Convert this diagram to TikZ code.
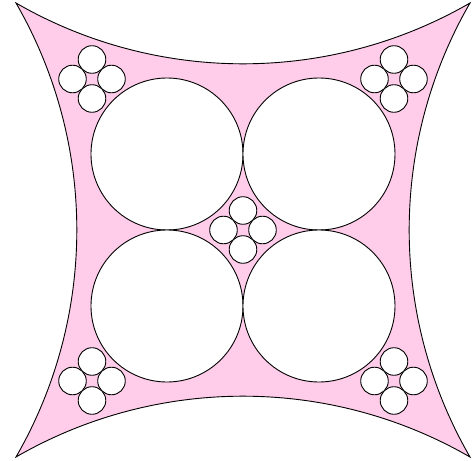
\documentclass[tikz,border=0pt]{standalone}
\definecolor{pinkfill}{RGB}{255,204,234}
\tikzset{
  outline/.style={draw=black, line width=0.9pt, fill=pinkfill, line join=miter},
  disc/.style={draw=black, line width=0.9pt, fill=white}
}
\newcommand{\quadcluster}[2]{%
  \foreach \dx/\dy in {0/1,1/0,0/-1,-1/0}
    \draw[disc] ({#1+19.5*\dx},{#2+19.5*\dy}) circle (13.79);%
}
\begin{document}
\begin{tikzpicture}[x=1pt,y=1pt]
  \useasboundingbox (-243,-231) rectangle (229,230);
  \def\s{227}
  % curvilinear square
  \draw[outline] (-\s,\s)
      arc[start angle=240, end angle=300, radius=454]
      arc[start angle=150, end angle=210, radius=454]
      arc[start angle=60,  end angle=120, radius=454]
      arc[start angle=-30, end angle=30,  radius=454] -- cycle;
  % four big circles
  \foreach \x/\y in {-76/76,76/76,-76/-76,76/-76}
    \draw[disc] (\x,\y) circle (76);
  % small clusters
  \quadcluster{0}{0}
  \quadcluster{-151}{151}
  \quadcluster{151}{151}
  \quadcluster{-151}{-151}
  \quadcluster{151}{-151}
\end{tikzpicture}
\end{document}
